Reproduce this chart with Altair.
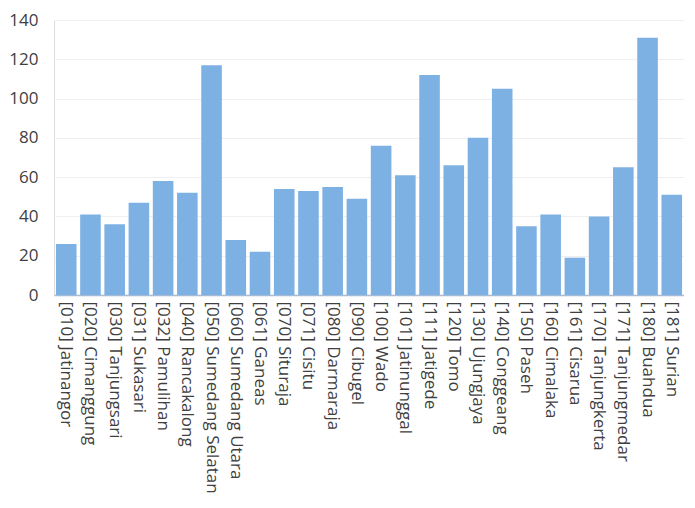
import altair as alt
import pandas as pd

categories = [
    "[010] Jatinangor", "[020] Cimanggung", "[030] Tanjungsari", "[031] Sukasari",
    "[032] Pamulihan", "[040] Rancakalong", "[050] Sumedang Selatan", "[060] Sumedang Utara",
    "[061] Ganeas", "[070] Situraja", "[071] Cisitu", "[080] Darmaraja",
    "[090] Cibugel", "[100] Wado", "[101] Jatinunggal", "[111] Jatigede",
    "[120] Tomo", "[130] Ujungjaya", "[140] Conggeang", "[150] Paseh",
    "[160] Cimalaka", "[161] Cisarua", "[170] Tanjungkerta", "[171] Tanjungmedar",
    "[180] Buahdua", "[181] Surian",
]
values = [26, 41, 36, 47, 58, 52, 117, 28, 22, 54, 53, 55,
          49, 76, 61, 112, 66, 80, 105, 35, 41, 19, 40, 65, 131, 51]
y_ticks = [0, 20, 40, 60, 80, 100, 120, 140]

df = pd.DataFrame({"cat": categories, "val": values})

FONT = "Open Sans"
TEXT = "#404040"

chart = alt.Chart(df).mark_bar(color="#7EB1E3").encode(
    x=alt.X("cat:N", sort=None, title=None,
            scale=alt.Scale(paddingInner=0.15, paddingOuter=0.08),
            axis=alt.Axis(labelAngle=90, labelFont=FONT, labelFontSize=17,
                          labelColor=TEXT, labelPadding=6, ticks=False,
                          domainColor="#A6BCD6", domainWidth=1.5, labelLimit=300)),
    y=alt.Y("val:Q", title=None,
            scale=alt.Scale(domain=[0, 140], nice=False),
            axis=alt.Axis(values=y_ticks, labelFont=FONT, labelFontSize=17,
                          labelColor=TEXT, ticks=False, domain=False,
                          labelPadding=16, gridColor="#EFEFEF")),
).properties(width=630, height=275, padding={"left": 0, "top": 3, "right": 0, "bottom": 0}
).configure_view(stroke=None).configure(background="white")

chart.save("out.html", embed_options={"renderer": "svg", "actions": False})
